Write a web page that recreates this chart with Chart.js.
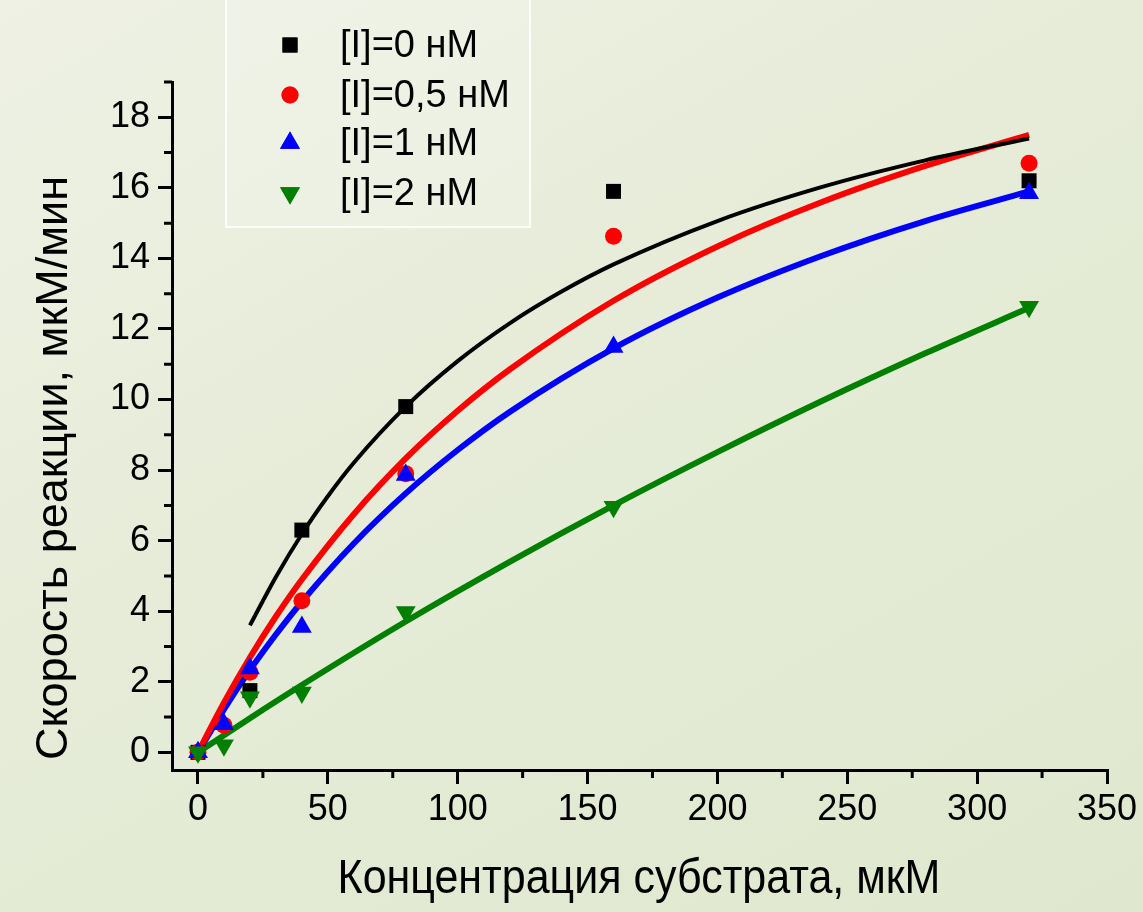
<!DOCTYPE html>
<html>
<head>
<meta charset="utf-8">
<script src="https://cdn.jsdelivr.net/npm/chart.js@4.4.1/dist/chart.umd.min.js"></script>
<style>
  html, body { margin: 0; padding: 0; }
  body {
    width: 1143px; height: 912px; overflow: hidden;
    background: linear-gradient(150deg, #eef1e4 0%, #e6ecd8 45%, #dfe8ce 100%);
  }
  #wrap { position: relative; width: 1143px; height: 912px; }
</style>
</head>
<body>
<div id="wrap"><canvas id="kineticsChart" width="1143" height="912"></canvas></div>
<script>
// measured points
const substrate = [0, 10, 20, 40, 80, 160, 320];
const substrateNoInh = [0, 20, 40, 80, 160, 320];
const rateI0 = [0, 1.75, 6.3, 9.8, 15.9, 16.2];
const rateI05 = [0, 0.77, 2.27, 4.3, 7.9, 14.63, 16.7];
const rateI1 = [0, 0.8, 2.38, 3.55, 7.86, 11.49, 15.85];
const rateI2 = [0, 0.2, 1.56, 1.7, 3.98, 6.96, 12.63];

// fitted curves
const fitX0 = [20, 30, 40, 50, 60, 80, 100, 120, 140, 160, 200, 240, 280, 320];
const fitI0 = [3.6, 4.97, 6.19, 7.26, 8.21, 9.8, 11.09, 12.16, 13.06, 13.83, 15.06, 16.02, 16.78, 17.4];
const fitX = [0, 10, 20, 30, 40, 60, 80, 100, 120, 160, 200, 240, 280, 320];
const fitI05 = [0, 1.41, 2.69, 3.85, 4.9, 6.75, 8.33, 9.68, 10.85, 12.8, 14.34, 15.59, 16.62, 17.5];
const fitI1 = [0, 1.22, 2.33, 3.34, 4.27, 5.92, 7.34, 8.57, 9.65, 11.45, 12.89, 14.07, 15.06, 15.9];
const fitXg = [0, 20, 40, 80, 120, 160, 200, 240, 280, 320];
const fitI2 = [0, 0.97, 1.91, 3.71, 5.4, 7.0, 8.51, 9.95, 11.31, 12.6];

const labels = ['[I]=0 нМ', '[I]=0,5 нМ', '[I]=1 нМ', '[I]=2 нМ'];
const xTicks = [0, 50, 100, 150, 200, 250, 300, 350];
const xMinor = [25, 75, 125, 175, 225, 275, 325];
const yTicks = [0, 2, 4, 6, 8, 10, 12, 14, 16, 18];
const yMinor = [1, 3, 5, 7, 9, 11, 13, 15, 17, 19];

const FONT = '"Liberation Sans", Arial, sans-serif';

const pts = (xs, ys) => xs.map((x, i) => ({x: x, y: ys[i]}));

const markerStyles = [
  {color: '#000000', pointStyle: 'rect', radius: 10.6, rotation: 0},
  {color: '#ff0000', pointStyle: 'circle', radius: 8.5, rotation: 0},
  {color: '#0000ff', pointStyle: 'triangle', radius: 11.5, rotation: 0},
  {color: '#008000', pointStyle: 'triangle', radius: 11.5, rotation: 180},
];

const markerSet = (idx, xs, ys, order) => ({
  label: labels[idx],
  data: pts(xs, ys),
  showLine: false,
  pointStyle: markerStyles[idx].pointStyle,
  pointRadius: markerStyles[idx].radius,
  pointRotation: markerStyles[idx].rotation,
  pointBackgroundColor: markerStyles[idx].color,
  pointBorderWidth: 0,
  borderColor: markerStyles[idx].color,
  order: order,
  clip: false,
});

const curveSet = (xs, ys, color, width) => ({
  label: 'fit',
  data: pts(xs, ys),
  showLine: true,
  borderColor: color,
  borderWidth: width,
  pointRadius: 0,
  cubicInterpolationMode: 'monotone',
  fill: false,
  order: 10,
});

// minor ticks, axis titles and the framed legend
const extras = {
  id: 'extras',
  afterDraw(chart) {
    const {ctx, chartArea} = chart;
    const x = chart.scales.x, y = chart.scales.y;
    ctx.save();
    ctx.strokeStyle = '#000';
    ctx.lineWidth = 3;
    ctx.beginPath();
    xMinor.forEach(v => {
      const px = x.getPixelForValue(v);
      ctx.moveTo(px, chartArea.bottom);
      ctx.lineTo(px, chartArea.bottom + 8);
    });
    yMinor.forEach(v => {
      const py = y.getPixelForValue(v);
      ctx.moveTo(chartArea.left - 8, py);
      ctx.lineTo(chartArea.left, py);
    });
    ctx.stroke();

    // axis titles (the source text is a bit taller than plain Arial)
    ctx.fillStyle = '#000';
    ctx.textAlign = 'center';
    ctx.textBaseline = 'middle';
    ctx.save();
    ctx.translate(639, 880);
    ctx.scale(1, 1.12);
    ctx.font = '43px ' + FONT;
    ctx.fillText('Концентрация субстрата, мкМ', 0, 0);
    ctx.restore();
    ctx.save();
    ctx.translate(55, 468);
    ctx.rotate(-Math.PI / 2);
    ctx.font = '45px ' + FONT;
    ctx.fillText('Скорость реакции, мкМ/мин', 0, 0);
    ctx.restore();

    // legend
    ctx.fillStyle = 'rgba(255,255,255,0.18)';
    ctx.fillRect(226, -2, 304, 229);
    ctx.strokeStyle = 'rgba(255,255,255,0.85)';
    ctx.lineWidth = 2;
    ctx.strokeRect(226, -2, 304, 229);
    ctx.font = '38px ' + FONT;
    ctx.textAlign = 'left';
    const rows = [45, 95, 143, 193];
    labels.forEach((lab, i) => {
      const m = markerStyles[i];
      ctx.fillStyle = m.color;
      Chart.helpers.drawPoint(ctx, {
        pointStyle: m.pointStyle, radius: m.radius, rotation: m.rotation, borderWidth: 0
      }, 290, rows[i]);
      ctx.fill();
      ctx.fillStyle = '#000';
      ctx.fillText(lab, 340, rows[i] + 2);
    });
    ctx.restore();
  }
};

new Chart(document.getElementById('kineticsChart'), {
  type: 'scatter',
  data: {
    datasets: [
      curveSet(fitX0, fitI0, '#000000', 4),
      curveSet(fitX, fitI05, '#ff0000', 6),
      curveSet(fitX, fitI1, '#0000ff', 6),
      curveSet(fitXg, fitI2, '#008000', 6),
      markerSet(0, substrateNoInh, rateI0, 4),
      markerSet(1, substrate, rateI05, 3),
      markerSet(2, substrate, rateI1, 2),
      markerSet(3, substrate, rateI2, 1),
    ],
  },
  options: {
    responsive: false,
    animation: false,
    layout: {padding: {top: 82, right: 36, left: 0, bottom: 0}},
    plugins: {legend: {display: false}, tooltip: {enabled: false}},
    scales: {
      x: {
        type: 'linear',
        min: -10,
        max: 350,
        afterBuildTicks: s => { s.ticks = xTicks.map(v => ({value: v})); },
        afterFit: s => { s.height = 142; },
        grid: {drawOnChartArea: false, color: '#000', lineWidth: 3, tickLength: 14},
        border: {color: '#000', width: 3},
        ticks: {color: '#000', font: {family: FONT, size: 36}, padding: 4, maxRotation: 0},
      },
      y: {
        min: -0.5,
        max: 19,
        afterBuildTicks: s => { s.ticks = yTicks.map(v => ({value: v})); },
        afterFit: s => { s.width = 172; },
        grid: {drawOnChartArea: false, color: '#000', lineWidth: 3, tickLength: 14},
        border: {color: '#000', width: 3},
        ticks: {color: '#000', font: {family: FONT, size: 36}, padding: 8},
      },
    },
  },
  plugins: [extras],
});
</script>
</body>
</html>
